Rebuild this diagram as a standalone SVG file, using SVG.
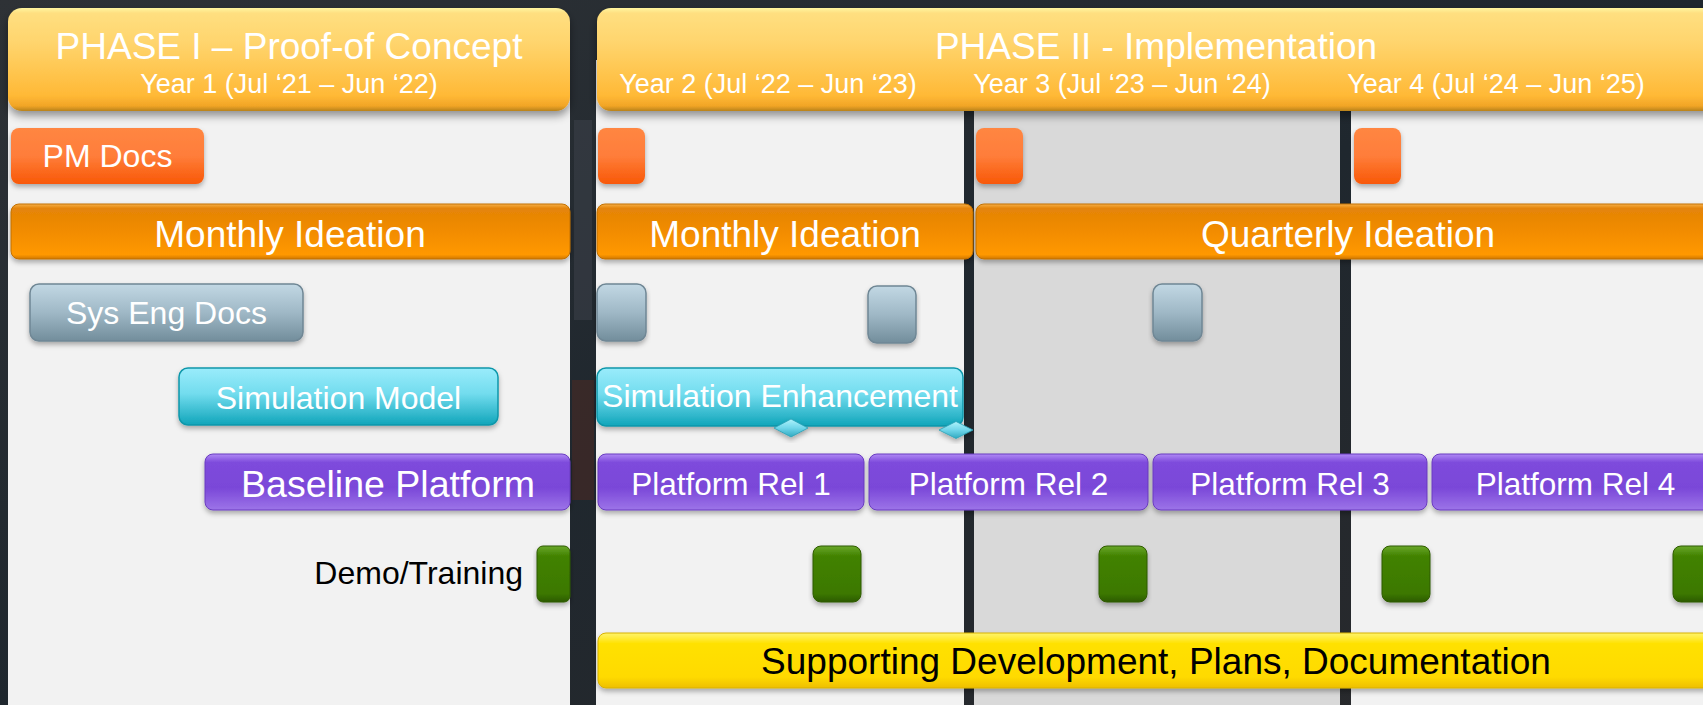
<svg xmlns="http://www.w3.org/2000/svg" width="1703" height="705" viewBox="0 0 1703 705">
<style>
text{font-family:"Liberation Sans",Arial,sans-serif;}
.w{fill:#ffffff;text-anchor:middle;}
.k{fill:#000000;text-anchor:middle;}
.panel{fill:#f2f2f2;}
.panelD{fill:#d9d9d9;}
.hdr{fill:url(#gHdr);filter:url(#sh);}
.pm{fill:url(#gPm);filter:url(#sh2);}
.org{fill:url(#gOrg);stroke:#c27000;stroke-width:1;filter:url(#sh2);}
.gry{fill:url(#gGry);stroke:#6f8795;stroke-width:1.5;filter:url(#sh2);}
.cyn{fill:url(#gCyn);stroke:#0e97aa;stroke-width:1.5;filter:url(#sh2);}
.pur{fill:url(#gPur);stroke:#6a3cc0;stroke-width:1;filter:url(#sh2);}
.grn{fill:url(#gGrn);stroke:#2f5a00;stroke-width:1;filter:url(#sh2);}
.yel{fill:url(#gYel);stroke:#d8b200;stroke-width:1;filter:url(#sh2);}
.dia{fill:url(#gDia);stroke:#2a9fb5;stroke-width:0.8;filter:url(#sh2);}
</style>
<defs>
<linearGradient id="gBg" x1="0" y1="0" x2="1" y2="1">
<stop offset="0" stop-color="#2e3236"/><stop offset="0.5" stop-color="#1f272e"/><stop offset="1" stop-color="#2a2a2c"/>
</linearGradient>
<linearGradient id="gHdr" x1="0" y1="0" x2="0" y2="1">
<stop offset="0" stop-color="#fff6a0"/><stop offset="0.05" stop-color="#ffdf80"/><stop offset="0.35" stop-color="#ffd46c"/><stop offset="0.85" stop-color="#ffb936"/><stop offset="0.95" stop-color="#f2a526"/><stop offset="1" stop-color="#b8821c"/>
</linearGradient>
<linearGradient id="gPm" x1="0" y1="0" x2="0" y2="1">
<stop offset="0" stop-color="#ff8642"/><stop offset="0.5" stop-color="#ff7d3a"/><stop offset="1" stop-color="#f85806"/>
</linearGradient>
<linearGradient id="gOrg" x1="0" y1="0" x2="0" y2="1">
<stop offset="0" stop-color="#f7b04a"/><stop offset="0.08" stop-color="#e48408"/><stop offset="0.5" stop-color="#f28c00"/><stop offset="0.92" stop-color="#ff9806"/><stop offset="1" stop-color="#d07800"/>
</linearGradient>
<linearGradient id="gGry" x1="0" y1="0" x2="0" y2="1">
<stop offset="0" stop-color="#c2d8e4"/><stop offset="0.5" stop-color="#9fb8c6"/><stop offset="1" stop-color="#728d9b"/>
</linearGradient>
<linearGradient id="gCyn" x1="0" y1="0" x2="0" y2="1">
<stop offset="0" stop-color="#9aecfb"/><stop offset="0.45" stop-color="#72dcee"/><stop offset="1" stop-color="#10a5ba"/>
</linearGradient>
<linearGradient id="gPur" x1="0" y1="0" x2="0" y2="1">
<stop offset="0" stop-color="#b08af5"/><stop offset="0.15" stop-color="#7e4bdc"/><stop offset="0.6" stop-color="#7a47d8"/><stop offset="1" stop-color="#9c74e8"/>
</linearGradient>
<linearGradient id="gGrn" x1="0" y1="0" x2="0" y2="1">
<stop offset="0" stop-color="#6aa82a"/><stop offset="0.18" stop-color="#428200"/><stop offset="0.85" stop-color="#3c7800"/><stop offset="1" stop-color="#2c5a00"/>
</linearGradient>
<linearGradient id="gYel" x1="0" y1="0" x2="0" y2="1">
<stop offset="0" stop-color="#fff46a"/><stop offset="0.2" stop-color="#ffe100"/><stop offset="0.8" stop-color="#ffda00"/><stop offset="1" stop-color="#eebf00"/>
</linearGradient>
<linearGradient id="gDia" x1="0" y1="0" x2="0" y2="1">
<stop offset="0" stop-color="#b0f3fc"/><stop offset="0.5" stop-color="#70d6ea"/><stop offset="1" stop-color="#2fa9c0"/>
</linearGradient>
<filter id="sh" x="-5%" y="-20%" width="110%" height="150%">
<feDropShadow dx="0" dy="5" stdDeviation="4" flood-color="#000" flood-opacity="0.4"/>
</filter>
<filter id="sh2" x="-10%" y="-20%" width="120%" height="150%">
<feDropShadow dx="0" dy="3" stdDeviation="2.5" flood-color="#000" flood-opacity="0.3"/>
</filter>
</defs>

<g id="background">
<rect x="0" y="0" width="1703" height="705" fill="url(#gBg)"/>
<rect x="572" y="380" width="22" height="120" fill="#4a2a24" opacity="0.6"/>
<rect x="574" y="120" width="18" height="200" fill="#3a4048" opacity="0.6"/>
</g>

<g id="panels">
<rect class="panel" x="8" y="60" width="562" height="645"/>
<rect class="panel" x="596" y="60" width="368" height="645"/>
<rect class="panelD" x="974" y="60" width="366" height="645"/>
<rect class="panel" x="1351" y="60" width="352" height="645"/>
</g>

<g id="phase1-header">
<rect class="hdr" x="8" y="8" width="562" height="103" rx="14"/>
<text class="w" x="289" y="59" font-size="37">PHASE I – Proof-of Concept</text>
<text class="w" x="289" y="93" font-size="27">Year 1 (Jul ‘21 – Jun ‘22)</text>
</g>

<g id="phase2-header">
<rect class="hdr" x="597" y="8" width="1130" height="103" rx="14"/>
<text class="w" x="1156" y="59" font-size="37">PHASE II - Implementation</text>
<text class="w" x="768" y="93" font-size="27">Year 2 (Jul ‘22 – Jun ‘23)</text>
<text class="w" x="1122" y="93" font-size="27">Year 3 (Jul ‘23 – Jun ‘24)</text>
<text class="w" x="1496" y="93" font-size="27">Year 4 (Jul ‘24 – Jun ‘25)</text>
</g>

<g id="pm-docs">
<rect class="pm" x="11" y="128" width="193" height="56" rx="8"/>
<text class="w" x="107.5" y="167" font-size="32">PM Docs</text>
</g>
<g id="pm-y2"><rect class="pm" x="598" y="128" width="47" height="56" rx="8"/></g>
<g id="pm-y3"><rect class="pm" x="976" y="128" width="47" height="56" rx="8"/></g>
<g id="pm-y4"><rect class="pm" x="1354" y="128" width="47" height="56" rx="8"/></g>

<g id="monthly-ideation-1">
<rect class="org" x="11" y="204" width="559" height="55" rx="8"/>
<text class="w" x="290" y="247" font-size="37">Monthly Ideation</text>
</g>
<g id="monthly-ideation-2">
<rect class="org" x="597" y="204" width="376" height="55" rx="8"/>
<text class="w" x="785" y="247" font-size="37">Monthly Ideation</text>
</g>
<g id="quarterly-ideation">
<rect class="org" x="976" y="204" width="745" height="55" rx="8"/>
<text class="w" x="1348" y="247" font-size="37">Quarterly Ideation</text>
</g>

<g id="sys-eng-docs">
<rect class="gry" x="30" y="284" width="273" height="57" rx="9"/>
<text class="w" x="166.5" y="324" font-size="32">Sys Eng Docs</text>
</g>
<g id="se-y2a"><rect class="gry" x="597" y="284" width="49" height="57" rx="9"/></g>
<g id="se-y2b"><rect class="gry" x="868" y="286" width="48" height="57" rx="9"/></g>
<g id="se-y3"><rect class="gry" x="1153" y="284" width="49" height="57" rx="9"/></g>

<g id="simulation-model">
<rect class="cyn" x="179" y="368" width="319" height="57" rx="9"/>
<text class="w" x="338.5" y="409" font-size="32">Simulation Model</text>
</g>
<g id="simulation-enhancement">
<rect class="cyn" x="597" y="368" width="366" height="58" rx="9"/>
<text class="w" x="780" y="407" font-size="32">Simulation Enhancement</text>
</g>
<g id="milestone-1"><polygon class="dia" points="774,428 791,419 808,428 791,437"/></g>
<g id="milestone-2"><polygon class="dia" points="939,430 956,421.5 973,430 956,438.5"/></g>

<g id="baseline-platform">
<rect class="pur" x="205" y="454" width="365" height="56" rx="8"/>
<text class="w" x="388" y="497" font-size="37.5">Baseline Platform</text>
</g>
<g id="platform-rel-1">
<rect class="pur" x="598" y="454" width="266" height="56" rx="8"/>
<text class="w" x="731" y="495" font-size="31.5">Platform Rel 1</text>
</g>
<g id="platform-rel-2">
<rect class="pur" x="869" y="454" width="279" height="56" rx="8"/>
<text class="w" x="1008.5" y="495" font-size="31.5">Platform Rel 2</text>
</g>
<g id="platform-rel-3">
<rect class="pur" x="1153" y="454" width="274" height="56" rx="8"/>
<text class="w" x="1290" y="495" font-size="31.5">Platform Rel 3</text>
</g>
<g id="platform-rel-4">
<rect class="pur" x="1432" y="454" width="287" height="56" rx="8"/>
<text class="w" x="1575.5" y="495" font-size="31.5">Platform Rel 4</text>
</g>

<g id="demo-training">
<text x="523" y="584" font-size="32" fill="#000" text-anchor="end">Demo/Training</text>
<rect class="grn" x="537" y="546" width="33" height="56" rx="6"/>
</g>
<g id="demo-y2"><rect class="grn" x="813" y="546" width="48" height="56" rx="8"/></g>
<g id="demo-y3"><rect class="grn" x="1099" y="546" width="48" height="56" rx="8"/></g>
<g id="demo-y4a"><rect class="grn" x="1382" y="546" width="48" height="56" rx="8"/></g>
<g id="demo-y4b"><rect class="grn" x="1673" y="546" width="48" height="56" rx="8"/></g>

<g id="supporting-development">
<rect class="yel" x="598" y="633" width="1130" height="55" rx="8"/>
<text class="k" x="1156" y="674" font-size="37">Supporting Development, Plans, Documentation</text>
</g>

<g id="connectors"></g>
</svg>
